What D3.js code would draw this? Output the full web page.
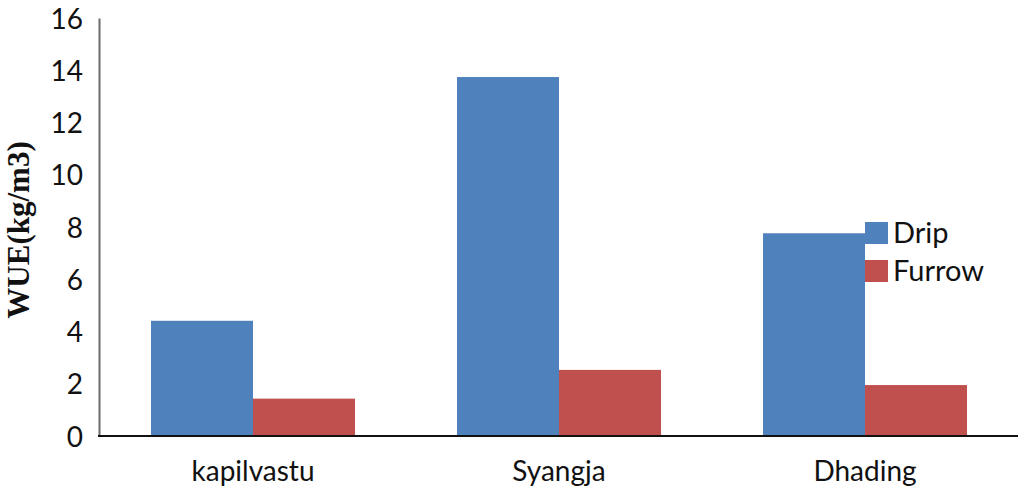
<!DOCTYPE html>
<html><head><meta charset="utf-8">
<script src="https://cdn.jsdelivr.net/npm/d3@7"></script>
<style>body{margin:0;background:#fff;}svg{display:block;}</style>
</head><body>
<svg id="c" width="1024" height="496"></svg>
<script>
const categories = ["kapilvastu", "Syangja", "Dhading"];
const seriesNames = ["Drip", "Furrow"];
const dripValues = [4.41, 13.74, 7.76];
const furrowValues = [1.43, 2.53, 1.95];
const yTicks = [0, 2, 4, 6, 8, 10, 12, 14, 16];
const colors = ["#4F81BD", "#C0504D"];

const svg = d3.select("#c");
const font = "Lato, 'Open Sans', sans-serif";
const x0 = d3.scaleBand().domain(categories).range([100, 1018]).paddingInner(1/3).paddingOuter(1/6);
const x1 = d3.scaleBand().domain(seriesNames).range([0, x0.bandwidth()]);
const y = d3.scaleLinear().domain([0, 16]).range([436, 18]);
const color = d3.scaleOrdinal().domain(seriesNames).range(colors);

const data = categories.map((c, i) => ({cat: c, vals: [
  {s: "Drip", v: dripValues[i]}, {s: "Furrow", v: furrowValues[i]}]}));

// bars
const g = svg.append("g");
g.selectAll("g.grp").data(data).join("g")
  .attr("transform", d => `translate(${x0(d.cat)},0)`)
  .selectAll("rect").data(d => d.vals).join("rect")
  .attr("x", d => x1(d.s)).attr("width", x1.bandwidth())
  .attr("y", d => y(d.v)).attr("height", d => y(0) - y(d.v))
  .attr("fill", d => color(d.s));

// y axis
const yAxis = svg.append("g").attr("transform", "translate(99,0)")
  .call(d3.axisLeft(y).tickValues(yTicks).tickSize(0).tickPadding(16));
yAxis.select(".domain").attr("stroke", "#6b6b6b").attr("stroke-width", 2);
yAxis.selectAll("text").attr("font-family", font).attr("font-size", 28).attr("fill", "#111").attr("dy", "0.36em");

// x axis
const xAxis = svg.append("g").attr("transform", "translate(0,436)")
  .call(d3.axisBottom(x0).tickSize(0).tickPadding(20));
xAxis.select(".domain").attr("d", "M98,0H1018").attr("stroke", "#111").attr("stroke-width", 2);
xAxis.selectAll("text").attr("font-family", font).attr("font-size", 28).attr("fill", "#111").attr("dy", "0.9em");

// y title
svg.append("text").attr("transform", "translate(29,230) rotate(-90)")
  .attr("text-anchor", "middle").attr("font-family", "'Liberation Serif', 'Times New Roman', serif")
  .attr("font-weight", "bold").attr("font-size", 31).attr("fill", "#111").text("WUE(kg/m3)");

// legend
const leg = svg.append("g");
seriesNames.forEach((s, i) => {
  const yy = 222 + i * 38;
  leg.append("rect").attr("x", 865).attr("y", yy).attr("width", 23).attr("height", 22).attr("fill", color(s));
  leg.append("text").attr("x", 893).attr("y", yy + 21).attr("font-family", font).attr("font-size", 29)
    .attr("fill", "#111").text(s);
});
</script>
</body></html>
